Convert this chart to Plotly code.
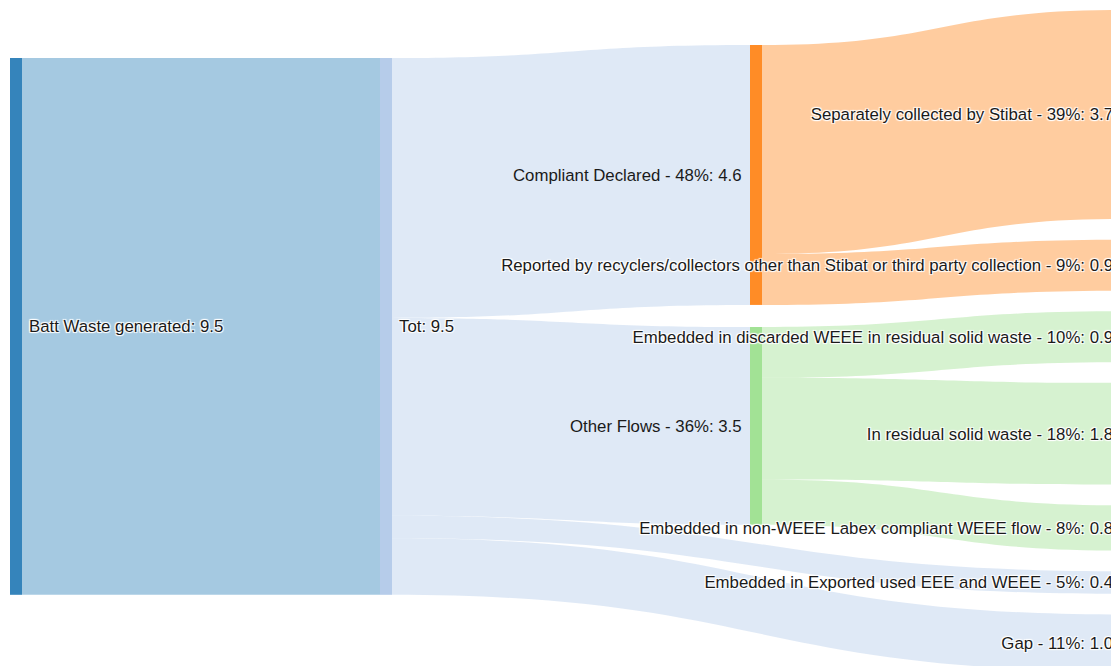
import plotly.graph_objects as go

# ---------------- data ----------------
node_labels = [
    "Batt Waste generated: 9.5",
    "Tot: 9.5",
    "Compliant Declared - 48%: 4.6",
    "Other Flows - 36%: 3.5",
    "Separately collected by Stibat - 39%: 3.7",
    "Reported by recyclers/collectors other than Stibat or third party collection - 9%: 0.9",
    "Embedded in discarded WEEE in residual solid waste - 10%: 0.9",
    "In residual solid waste - 18%: 1.8",
    "Embedded in non-WEEE Labex compliant WEEE flow - 8%: 0.8",
    "Embedded in Exported used EEE and WEEE - 5%: 0.4",
    "Gap - 11%: 1.0",
]
link_source = [0, 1, 1, 1, 1, 2, 2, 3, 3, 3]
link_target = [1, 2, 3, 9, 10, 4, 5, 6, 7, 8]
link_value = [9.5, 4.6, 3.5, 0.4, 1.0, 3.7, 0.9, 0.9, 1.8, 0.8]

# ---------------- layout / style ----------------
FIG_W, FIG_H = 1111, 666
M_L, M_T, M_B = 2, 2, 3
PLOT_W, PLOT_H = FIG_W - M_L, FIG_H - M_T - M_B
PAD = 20.7
THICK = 12
LINE_W = 8          # transparent node outline -> label offset like the reference
COL_X0 = 0          # px offset of first column inside plot area
COL_SPACING = 370   # px between columns
FONT = dict(family="Liberation Sans, Arial, sans-serif", size=16.8, color="#1a1a1a")

node_column = [0, 1, 2, 2, 3, 3, 3, 3, 3, 3, 3]
# top edge (px inside plot area) for nodes not in the stacked last column
group_top = {0: 48, 1: 48, 2: 35, 3: 317}
right_top = 0
label_left_cols = {2}  # columns whose labels sit on the left of the node (drawn as annotations)

node_colors = [
    "rgba(31,119,180,0.9)", "rgba(174,199,232,0.9)", "rgba(255,127,14,0.9)", "rgba(152,223,138,0.9)",
    "rgb(255,204,159)", "rgb(255,204,159)", "rgb(214,242,208)", "rgb(214,242,208)",
    "rgb(214,242,208)", "rgb(223,233,246)", "rgb(223,233,246)",
]
src_link_colors = {
    0: "rgba(31,119,180,0.4)", 1: "rgba(174,199,232,0.4)",
    2: "rgba(255,127,14,0.4)", 3: "rgba(152,223,138,0.4)",
}
link_colors = [src_link_colors[s] for s in link_source]

# node values from links
n = len(node_labels)
vin = [0.0] * n
vout = [0.0] * n
for s, t, v in zip(link_source, link_target, link_value):
    vout[s] += v
    vin[t] += v
node_val = [max(a, b) for a, b in zip(vin, vout)]

right_nodes = [i for i in range(n) if node_column[i] == 3]
right_total = sum(node_val[i] for i in right_nodes)
ky = (PLOT_H - (len(right_nodes) - 1) * PAD) / right_total

node_x, node_y, shown_labels, annotations = [], [], [], []
y_cursor = right_top
for i in range(n):
    col = node_column[i]
    x0 = COL_X0 + COL_SPACING * col
    xc = x0 + THICK / 2
    h = node_val[i] * ky
    if col == 3:
        top = y_cursor
        y_cursor += h + PAD
    else:
        top = group_top[i]
    yc = top + h / 2
    node_x.append(xc / PLOT_W)
    node_y.append(yc / PLOT_H)
    if col in label_left_cols:
        shown_labels.append("")
        annotations.append(dict(
            text=node_labels[i], xref="paper", yref="paper",
            x=(x0 - 6) / PLOT_W, y=1 - (yc + 1) / PLOT_H,
            xanchor="right", yanchor="middle", showarrow=False, font=FONT,
        ))
    else:
        shown_labels.append(node_labels[i])

fig = go.Figure(go.Sankey(
    arrangement="fixed",
    node=dict(
        label=shown_labels,
        color=node_colors,
        pad=PAD,
        thickness=THICK,
        line=dict(width=LINE_W, color="rgba(0,0,0,0)"),
        x=node_x,
        y=node_y,
    ),
    link=dict(source=link_source, target=link_target, value=link_value, color=link_colors),
    textfont=FONT,
))
fig.update_layout(
    width=FIG_W,
    height=FIG_H,
    margin=dict(l=M_L, r=0, t=M_T, b=M_B),
    paper_bgcolor="white",
    annotations=annotations,
)
fig.write_html("out.html", post_script="document.body.style.overflow = 'hidden';")
